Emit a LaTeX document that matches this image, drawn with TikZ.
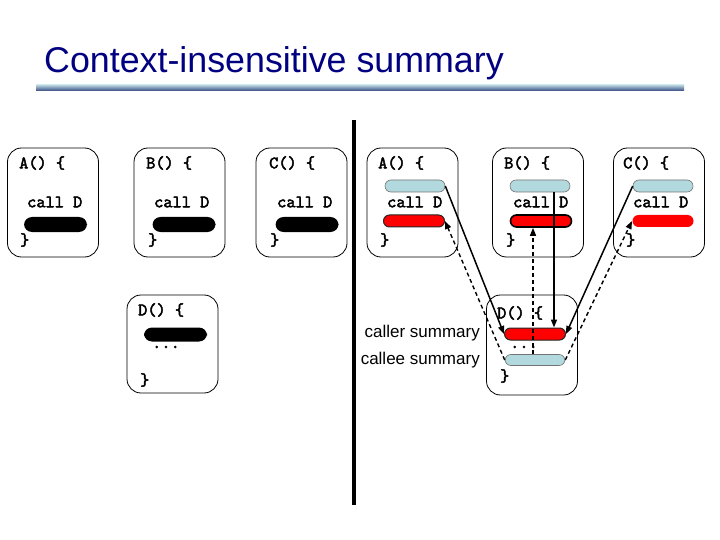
\documentclass[tikz,border=0pt]{standalone}
\usepackage{fontspec}
\setsansfont{Liberation Sans}
\newfontfamily\codefont[FakeBold=2.5]{lmmono10-regular.otf}
\usetikzlibrary{arrows.meta}
\definecolor{titleblue}{RGB}{0,0,128}
\definecolor{barlight}{RGB}{185,212,222}
\definecolor{bardark}{RGB}{52,72,128}
\definecolor{sumblue}{RGB}{178,218,222}
\tikzset{
  fbox/.style={draw, line width=0.8pt, rounded corners=14pt, minimum width=91pt, minimum height=100pt, inner sep=0pt},
  code/.style={font=\codefont\fontsize{17.5}{17.5}\selectfont, anchor=west, inner sep=0pt},
  blackpill/.style={fill=black, rounded corners=8pt, minimum width=63pt, minimum height=15pt, inner sep=0pt},
  redpill/.style={fill=red, draw=black!85, line width=1pt, rounded corners=6pt, minimum width=61pt, minimum height=12pt, inner sep=0pt},
  bluepill/.style={fill=sumblue, draw=black!55, line width=0.6pt, rounded corners=6pt, minimum width=60pt, minimum height=12pt, inner sep=0pt},
  sumlabel/.style={font=\sffamily\fontsize{17}{17}\selectfont, anchor=east, inner sep=0pt},
  sumarrow/.style={line width=1.5pt, -{Triangle[length=8pt,width=6pt]}},
  retarrow/.style={line width=1.4pt, dash pattern=on 4pt off 3pt, -{Triangle[length=8pt,width=6pt]}}
}
\begin{document}
\begin{tikzpicture}[x=1pt,y=-1pt]
\useasboundingbox (0,0) rectangle (720,540);
\node[font=\sffamily\fontsize{35.8}{36}\selectfont, text=titleblue, anchor=base west, inner sep=0pt] (title) at (44,73) {Context-insensitive summary};
\shade[top color=barlight, bottom color=bardark] (36,85) rectangle (684,91);
\fill[black] (352,120) rectangle (356,505);
% callers, one box each
\node[fbox, minimum height=109pt] (lA) at (53,202.5) {};
\node[code] (lAhead) at (19,163) {A() \{};
\node[code] (lAcall) at (27,202) {call D};
\node[blackpill] (lAsum) at (55.5,224.5) {};
\node[code] (lAend) at (20,240) {\}};
\node[fbox, minimum height=109pt] (lB) at (179.5,202.5) {};
\node[code] (lBhead) at (146,163) {B() \{};
\node[code] (lBcall) at (154,202) {call D};
\node[blackpill] (lBsum) at (184,224.5) {};
\node[code] (lBend) at (148,240) {\}};
\node[fbox, minimum height=109pt] (lC) at (301.5,202.5) {};
\node[code] (lChead) at (269,163) {C() \{};
\node[code] (lCcall) at (277,202) {call D};
\node[blackpill] (lCsum) at (307,224.5) {};
\node[code] (lCend) at (270,240) {\}};
% callee
\node[fbox, minimum height=98pt] (lD) at (172.5,344) {};
\node[code] (lDhead) at (138,310) {D() \{};
\node[blackpill, minimum height=14pt] (lDsum) at (175.5,334.5) {};
\node[code] (lDdots) at (152,347) {...};
\node[code] (lDend) at (140,380) {\}};
% the same program with summaries
\node[fbox, minimum height=109pt] (rA) at (412.5,202.5) {};
\node[code] (rAhead) at (378,163) {A() \{};
\node[bluepill] (rAblue) at (415,186) {};
\node[code] (rAcall) at (387,202) {call D};
\node[redpill] (rAred) at (414,221) {};
\node[code] (rAend) at (380,240) {\}};
\node[fbox, minimum height=109pt] (rB) at (538,202.5) {};
\node[code] (rBhead) at (504,163) {B() \{};
\node[bluepill] (rBblue) at (540,186) {};
\node[code] (rBcall) at (513,202) {call D};
\node[redpill, line width=1.6pt, draw=black] (rBred) at (541,221) {};
\node[code] (rBend) at (506,240) {\}};
\node[fbox, minimum height=109pt] (rC) at (659,202.5) {};
\node[code] (rChead) at (623,163) {C() \{};
\node[bluepill] (rCblue) at (663,186) {};
\node[code] (rCcall) at (633,202) {call D};
\node[redpill, draw=none] (rCred) at (663,221) {};
\node[code] (rCend) at (626,240) {\}};
\node[fbox, minimum height=100pt] (rD) at (532,345) {};
\node[code] (rDhead) at (497,313) {D() \{};
\node[redpill] (rDred) at (535,334) {};
\node[code] (rDdots) at (510,347) {...};
\node[bluepill, minimum height=11pt] (rDblue) at (535,360) {};
\node[code] (rDend) at (500,376) {\}};
\node[sumlabel] (callerlbl) at (480,333) {caller summary};
\node[sumlabel] (calleelbl) at (480,360) {callee summary};
\draw[sumarrow] (rAblue.east) -- (rDred.west);
\draw[retarrow] (rDblue.west) -- (rAred.east);
\draw[sumarrow] ([xshift=14pt]rBblue.south) -- ([xshift=14pt]rBblue.south |- rDred.north);
\draw[retarrow] ([xshift=-2pt]rDblue.north) -- ([xshift=-2pt]rDblue.north |- rBred.south);
\draw[sumarrow] (rCblue.west) -- (rDred.east);
\draw[retarrow] (rDblue.east) -- (rCred.west);
\end{tikzpicture}
\end{document}
